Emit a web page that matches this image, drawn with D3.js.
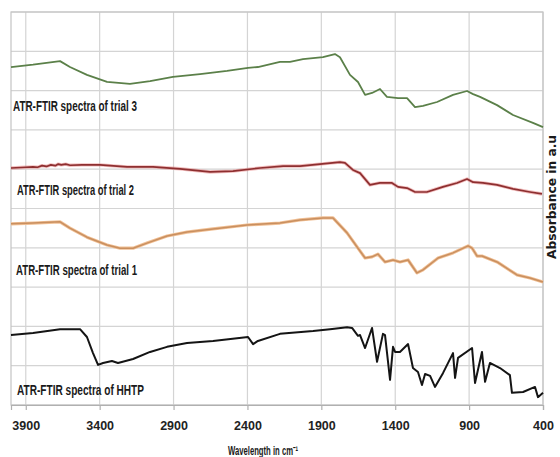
<!DOCTYPE html>
<html>
<head>
<meta charset="utf-8">
<script src="https://cdn.jsdelivr.net/npm/d3@7"></script>
<style>
  body { margin: 0; background: #fff; }
  .tick text { font-family: "Liberation Sans Narrow", "Liberation Sans", sans-serif; }
</style>
</head>
<body>
<div id="chart"></div>
<script>
// chart size
var svgWidth = 560;
var svgHeight = 457;

var margin = {
  top: 12,
  right: 17,
  bottom: 52,
  left: 11
};

var width = svgWidth - margin.left - margin.right;
var height = svgHeight - margin.top - margin.bottom;

// x ticks (wavenumber, reversed axis)
var xTicks = [3900, 3400, 2900, 2400, 1900, 1400, 900, 400];
var yGrid = [0, 1, 2, 3, 4, 5, 6, 7, 8, 9, 10];

// spectra: [wavenumber, absorbance (a.u, stacked)]
var trial3 = [[4000,8.60],[3851,8.66],[3668,8.75],[3601,8.60],[3486,8.40],[3350,8.22],[3195,8.17],
  [3059,8.24],[2904,8.35],[2721,8.42],[2538,8.50],[2396,8.58],[2329,8.60],[2180,8.73],[2112,8.73],
  [2024,8.80],[1889,8.85],[1808,8.93],[1774,8.85],[1706,8.40],[1652,8.22],[1604,7.89],[1557,7.94],
  [1503,8.04],[1456,7.84],[1381,7.81],[1320,7.81],[1266,7.58],[1212,7.61],[1117,7.71],[1009,7.89],
  [914,7.99],[873,7.91],[826,7.84],[711,7.63],[603,7.38],[468,7.18],[400,7.07]];

var trial2 = [[4000,6.03],[3900,6.05],[3851,6.06],[3820,6.05],[3790,6.09],[3760,6.07],[3730,6.11],
  [3700,6.09],[3680,6.13],[3660,6.11],[3630,6.13],[3600,6.10],[3520,6.11],[3398,6.11],[3215,6.06],
  [3039,6.06],[2856,6.01],[2653,5.93],[2498,5.95],[2315,6.03],[2159,6.08],[2044,6.08],[1909,6.13],
  [1774,6.18],[1740,6.16],[1686,5.98],[1638,5.90],[1571,5.60],[1503,5.65],[1422,5.65],[1381,5.55],
  [1320,5.52],[1266,5.42],[1185,5.42],[1077,5.55],[982,5.65],[914,5.75],[873,5.67],[806,5.65],
  [711,5.60],[603,5.50],[488,5.42],[407,5.37]];

var trial1 = [[4000,4.61],[3851,4.63],[3668,4.66],[3601,4.50],[3486,4.27],[3350,4.07],[3262,3.99],
  [3174,3.99],[3080,4.12],[2944,4.30],[2809,4.40],[2633,4.48],[2403,4.58],[2180,4.63],[2044,4.71],
  [1889,4.76],[1821,4.76],[1726,4.38],[1652,3.99],[1604,3.74],[1557,3.77],[1517,3.84],[1469,3.64],
  [1415,3.69],[1368,3.64],[1313,3.69],[1253,3.36],[1212,3.44],[1110,3.74],[1009,3.87],[907,4.05],
  [880,3.99],[846,3.79],[813,3.79],[711,3.64],[576,3.31],[488,3.23],[400,3.13]];

var hhtp = [[4000,1.78],[3851,1.83],[3668,1.93],[3533,1.93],[3486,1.73],[3445,1.32],[3411,1.02],
  [3377,1.07],[3317,1.12],[3276,1.07],[3174,1.17],[3059,1.35],[2944,1.48],[2809,1.58],[2633,1.63],
  [2396,1.73],[2362,1.55],[2329,1.63],[2180,1.81],[1956,1.88],[1841,1.93],[1726,1.98],[1692,1.96],
  [1652,1.76],[1638,1.78],[1604,1.45],[1557,1.96],[1523,1.10],[1483,1.81],[1469,1.78],[1435,0.64],
  [1415,1.48],[1401,1.35],[1368,1.35],[1313,1.55],[1280,0.94],[1246,0.84],[1219,0.51],[1198,0.79],
  [1164,0.74],[1131,0.46],[1077,0.81],[1009,1.32],[995,0.69],[975,1.20],[880,1.45],[860,0.56],
  [813,1.35],[792,0.59],[759,1.07],[691,0.94],[624,0.76],[610,0.31],[535,0.33],[454,0.46],
  [434,0.20],[400,0.31]];

var seriesLabels = ["ATR-FTIR spectra of trial 3", "ATR-FTIR spectra of trial 2",
  "ATR-FTIR spectra of trial 1", "ATR-FTIR spectra of HHTP"];

var svg = d3.select("#chart").append("svg")
  .attr("width", svgWidth)
  .attr("height", svgHeight);

var chartGroup = svg.append("g")
  .attr("transform", `translate(${margin.left}, ${margin.top})`);

// scales
var xScale = d3.scaleLinear().domain([4000, 400]).range([0, width]);
var yScale = d3.scaleLinear().domain([0, 10]).range([height, 0]);

// horizontal gridlines
chartGroup.selectAll(".hgrid")
  .data(yGrid)
  .enter()
  .append("line")
  .attr("x1", 0)
  .attr("x2", width)
  .attr("y1", d => yScale(d))
  .attr("y2", d => yScale(d))
  .attr("stroke", "#d4d4d4")
  .attr("stroke-width", 1.2);

// vertical gridlines
chartGroup.selectAll(".vgrid")
  .data(xTicks)
  .enter()
  .append("line")
  .attr("x1", d => xScale(d))
  .attr("x2", d => xScale(d))
  .attr("y1", 0)
  .attr("y2", height)
  .attr("stroke", "#d4d4d4")
  .attr("stroke-width", 1.2);

// plot border
chartGroup.append("rect")
  .attr("width", width)
  .attr("height", height)
  .attr("fill", "none")
  .attr("stroke", "#c4c4c4")
  .attr("stroke-width", 1.2);

// x axis
var xAxis = chartGroup.append("g")
  .attr("transform", `translate(0, ${height})`)
  .call(d3.axisBottom(xScale).tickValues(xTicks).tickSize(5).tickPadding(11).tickFormat(d3.format("d")));

xAxis.select(".domain").attr("stroke", "#b0b0b0").attr("stroke-width", 1.2);
xAxis.selectAll(".tick line").attr("stroke", "#b0b0b0").attr("stroke-width", 1.2);
xAxis.selectAll(".tick text")
  .attr("font-size", "12.5px")
  .attr("fill", "#222")
  .attr("font-weight", "bold");

// line generator
var line = d3.line()
  .x(d => xScale(d[0]))
  .y(d => yScale(d[1]));

// spectra
chartGroup.append("path").datum(trial3)
  .attr("fill", "none").attr("stroke", "#5b8049").attr("stroke-width", 1.8)
  .attr("stroke-linejoin", "round").attr("d", line);

chartGroup.append("path").datum(trial2)
  .attr("fill", "none").attr("stroke", "#e88a8a").attr("stroke-width", 3.4)
  .attr("stroke-opacity", 0.55).attr("stroke-linejoin", "round").attr("d", line);
chartGroup.append("path").datum(trial2)
  .attr("fill", "none").attr("stroke", "#8e2f30").attr("stroke-width", 1.7)
  .attr("stroke-linejoin", "round").attr("d", line);

chartGroup.append("path").datum(trial1)
  .attr("fill", "none").attr("stroke", "#f0bf94").attr("stroke-width", 3.2)
  .attr("stroke-linejoin", "round").attr("d", line);
chartGroup.append("path").datum(trial1)
  .attr("fill", "none").attr("stroke", "#c98f5f").attr("stroke-width", 1.5)
  .attr("stroke-linejoin", "round").attr("d", line);

chartGroup.append("path").datum(hhtp)
  .attr("fill", "none").attr("stroke", "#141414").attr("stroke-width", 2)
  .attr("stroke-linejoin", "round").attr("d", line);

// series labels
var labelPos = [[13, 111, 124], [17, 195, 117], [16, 275, 121], [17, 395, 127]];

svg.selectAll(".seriesLabel")
  .data(seriesLabels)
  .enter()
  .append("text")
  .attr("x", (d, i) => labelPos[i][0])
  .attr("y", (d, i) => labelPos[i][1])
  .attr("textLength", (d, i) => labelPos[i][2])
  .attr("lengthAdjust", "spacingAndGlyphs")
  .attr("font-family", "'Liberation Sans Narrow', 'Liberation Sans', sans-serif")
  .attr("font-size", "14px")
  .attr("font-weight", "bold")
  .attr("fill", "#1a1a1a")
  .text(d => d);

// x axis title (single text, unicode superscript)
svg.append("text")
  .attr("x", 228)
  .attr("y", 455)
  .attr("textLength", 70)
  .attr("lengthAdjust", "spacingAndGlyphs")
  .attr("font-family", "'Liberation Sans Narrow', 'Liberation Sans', sans-serif")
  .attr("font-size", "12.5px")
  .attr("font-weight", "bold")
  .attr("fill", "#1a1a1a")
  .text("Wavelength in cm\u207B\u00B9");

// y axis title on the right
svg.append("text")
  .attr("transform", "translate(556, 197) rotate(-90)")
  .attr("text-anchor", "middle")
  .attr("textLength", 124)
  .attr("lengthAdjust", "spacingAndGlyphs")
  .attr("font-family", "'DejaVu Sans', sans-serif")
  .attr("font-size", "11.5px")
  .attr("font-weight", "bold")
  .attr("fill", "#1a1a1a")
  .text("Absorbance in a.u");
</script>
</body>
</html>
